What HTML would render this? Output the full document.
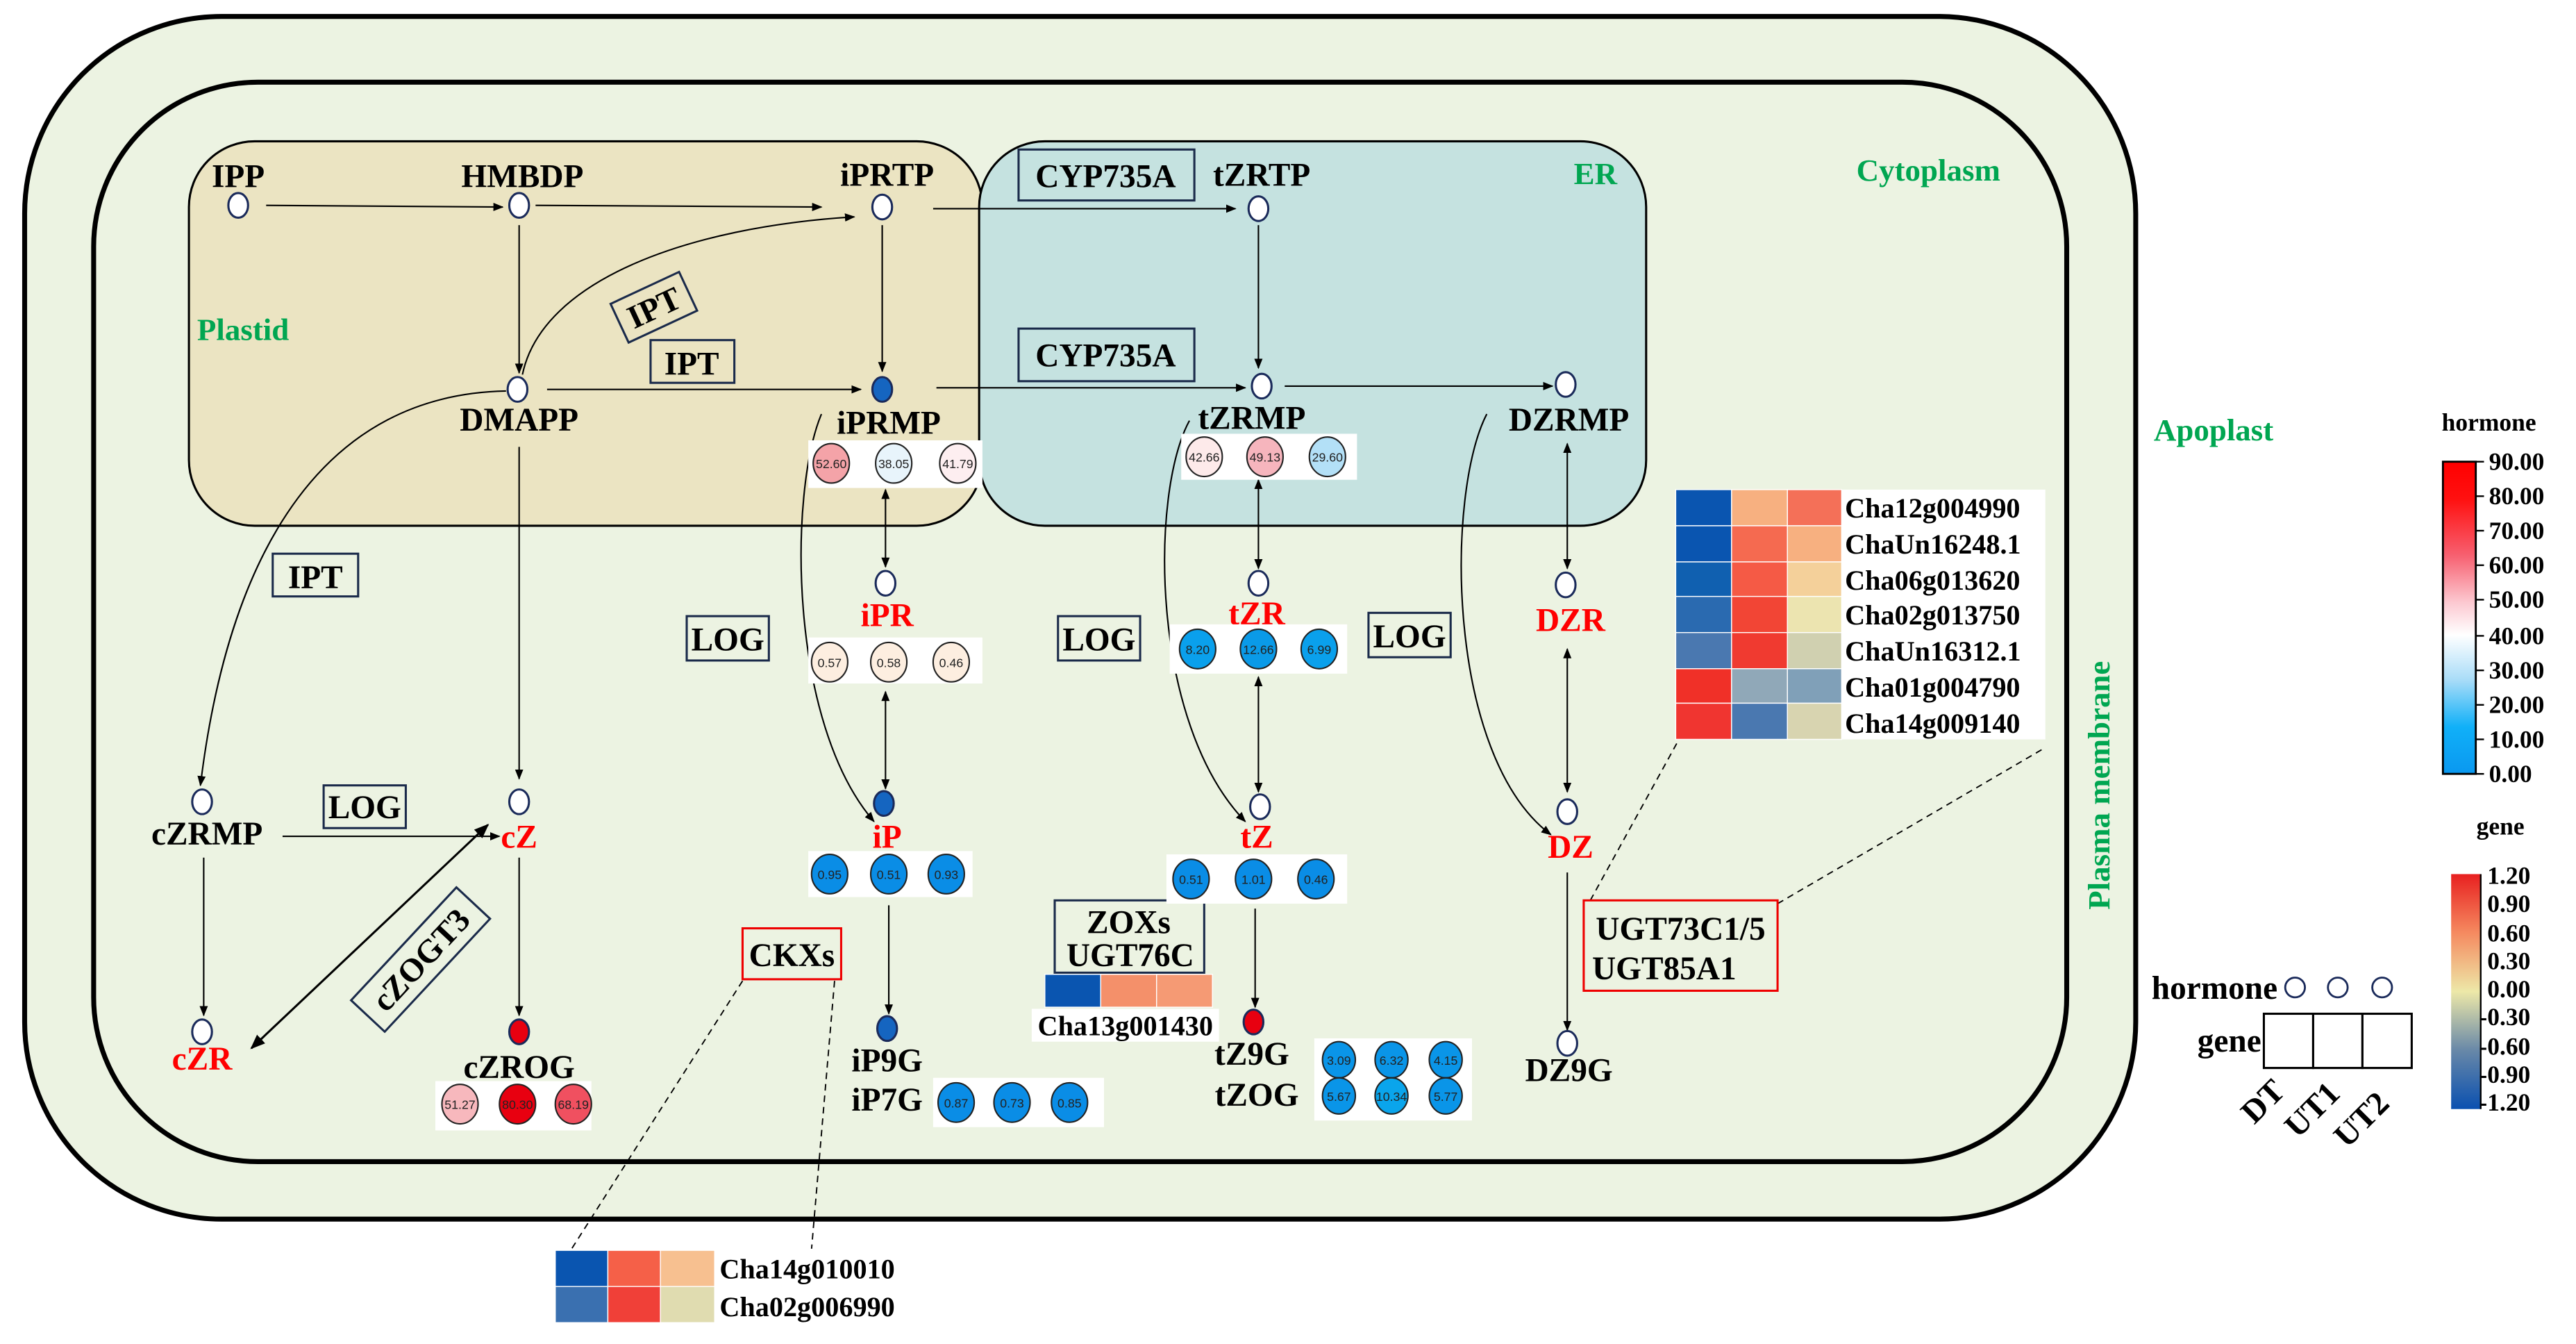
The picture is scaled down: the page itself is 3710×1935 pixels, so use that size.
<!DOCTYPE html>
<html><head><meta charset="utf-8"><style>
html,body{margin:0;padding:0;background:#fff;}
svg{display:block;}
text{font-family:"Liberation Serif",serif;font-weight:bold;}
.l{font-size:20px;text-anchor:middle;fill:#000;}
.r{font-size:20px;text-anchor:middle;fill:#f00;}
.g{font-size:19px;fill:#00a651;}
.v{font-family:"Liberation Sans",sans-serif;font-weight:normal;font-size:7.5px;text-anchor:middle;fill:#222;}
.gn{font-size:17px;fill:#000;}
.lg{font-size:15px;fill:#000;}
</style></head><body>
<svg width="3710" height="1935" viewBox="0 0 1568 818" preserveAspectRatio="none" xmlns="http://www.w3.org/2000/svg">
<defs>
<marker id="a" viewBox="0 0 10 10" refX="9" refY="5" markerWidth="7" markerHeight="7" orient="auto-start-reverse"><path d="M0,1 L10,5 L0,9 z" fill="#000"/></marker>
</defs>
<rect x="0" y="0" width="1568" height="818" fill="#fff"/>
<!-- cell walls -->
<rect x="15" y="10" width="1285" height="732" rx="120" ry="120" fill="#ecf3e2" stroke="#000" stroke-width="3"/>
<rect x="57" y="50" width="1201" height="657" rx="100" ry="100" fill="#ecf3e2" stroke="#000" stroke-width="3"/>
<!-- plastid & ER -->
<rect x="115" y="86" width="483" height="234" rx="40" ry="40" fill="#ebe4c2" stroke="#000" stroke-width="1.3"/>
<rect x="596" y="86" width="406" height="234" rx="40" ry="40" fill="#c5e2e0" stroke="#000" stroke-width="1.3"/>
<text class="g" x="120" y="207">Plastid</text>
<text class="g" x="958" y="112">ER</text>
<text class="g" x="1130" y="110">Cytoplasm</text>
<text class="g" x="1311" y="268">Apoplast</text>
<text class="g" x="0" y="0" font-size="17" text-anchor="middle" transform="translate(1284,478) rotate(-90)">Plasma membrane</text>

<!-- connectors -->
<g stroke="#000" stroke-width="0.9" fill="none">
<line x1="162" y1="125" x2="306" y2="126" marker-end="url(#a)"/>
<line x1="326" y1="125" x2="500" y2="126" marker-end="url(#a)"/>
<line x1="568" y1="127" x2="752" y2="127" marker-end="url(#a)"/>
<line x1="316" y1="137" x2="316" y2="227" marker-end="url(#a)"/>
<line x1="537" y1="137" x2="537" y2="226" marker-end="url(#a)"/>
<line x1="766" y1="137" x2="766" y2="224" marker-end="url(#a)"/>
<line x1="333" y1="237" x2="524" y2="237" marker-end="url(#a)"/>
<line x1="570" y1="236" x2="758" y2="236" marker-end="url(#a)"/>
<line x1="782" y1="235" x2="945" y2="235" marker-end="url(#a)"/>
<path d="M318,228 C330,170 420,138 520,132" marker-end="url(#a)"/>
<path d="M308,238 C200,240 140,330 122,478" marker-end="url(#a)"/>
<line x1="316" y1="272" x2="316" y2="474" marker-end="url(#a)"/>
<path d="M500,252 C480,300 480,440 532,500" marker-end="url(#a)"/>
<path d="M724,256 C700,300 700,440 758,500" marker-end="url(#a)"/>
<path d="M905,252 C880,300 880,460 944,508" marker-end="url(#a)"/>
<line x1="539" y1="298" x2="539" y2="345" marker-start="url(#a)" marker-end="url(#a)"/>
<line x1="539" y1="421" x2="539" y2="480" marker-start="url(#a)" marker-end="url(#a)"/>
<line x1="766" y1="292" x2="766" y2="346" marker-start="url(#a)" marker-end="url(#a)"/>
<line x1="766" y1="412" x2="766" y2="482" marker-start="url(#a)" marker-end="url(#a)"/>
<line x1="954" y1="270" x2="954" y2="346" marker-start="url(#a)" marker-end="url(#a)"/>
<line x1="954" y1="395" x2="954" y2="482" marker-start="url(#a)" marker-end="url(#a)"/>
<line x1="541" y1="551" x2="541" y2="617" marker-end="url(#a)"/>
<line x1="764" y1="553" x2="764" y2="613" marker-end="url(#a)"/>
<line x1="954" y1="531" x2="954" y2="627" marker-end="url(#a)"/>
<line x1="172" y1="509" x2="304" y2="509" marker-end="url(#a)"/>
<line x1="124" y1="522" x2="124" y2="618" marker-end="url(#a)"/>
<line x1="316" y1="522" x2="316" y2="618" marker-end="url(#a)"/>
<line x1="153" y1="638" x2="297" y2="502" stroke-width="1.3" marker-start="url(#a)" marker-end="url(#a)"/>
</g>
<g stroke="#000" stroke-width="0.8" fill="none" stroke-dasharray="4,3">
<line x1="452" y1="597" x2="348" y2="760"/>
<line x1="508" y1="597" x2="494" y2="760"/>
<line x1="968" y1="548" x2="1022" y2="450"/>
<line x1="1082" y1="550" x2="1245" y2="455"/>
</g>

<!-- enzyme boxes -->
<g fill="none" stroke="#1a2a4a" stroke-width="1.3">
<rect x="620" y="91" width="107" height="31"/>
<rect x="620" y="200" width="107" height="32"/>
<rect x="396" y="207" width="51" height="26"/>
<rect x="166" y="337" width="52" height="26"/>
<rect x="418" y="375" width="50" height="27"/>
<rect x="644" y="375" width="50" height="27"/>
<rect x="833" y="373" width="50" height="27"/>
<rect x="197" y="478" width="50" height="26"/>
<rect x="642" y="548" width="91" height="44"/>
<rect x="-23" y="-13" width="46" height="26" transform="translate(398,187) rotate(-25)"/>
<rect x="-47" y="-14" width="94" height="28" transform="translate(256,584) rotate(-47)"/>
</g>
<g fill="none" stroke="#e00" stroke-width="1.3">
<rect x="452" y="565" width="60" height="31"/>
<rect x="964" y="548" width="118" height="55"/>
</g>
<text class="l" x="673" y="114">CYP735A</text>
<text class="l" x="673" y="223">CYP735A</text>
<text class="l" x="421" y="228">IPT</text>
<text class="l" x="192" y="358">IPT</text>
<text class="l" x="0" y="7" transform="translate(398,187) rotate(-25)">IPT</text>
<text class="l" x="443" y="396">LOG</text>
<text class="l" x="669" y="396">LOG</text>
<text class="l" x="858" y="394">LOG</text>
<text class="l" x="222" y="498">LOG</text>
<text class="l" x="0" y="7" font-size="19" transform="translate(256,584) rotate(-47)">cZOGT3</text>
<text class="l" x="482" y="588">CKXs</text>
<text class="l" x="687" y="568">ZOXs</text>
<text class="l" x="688" y="588">UGT76C</text>
<text class="l" x="1023" y="572">UGT73C1/5</text>
<text class="l" x="1013" y="596">UGT85A1</text>

<!-- metabolite labels -->
<text class="l" x="145" y="114">IPP</text>
<text class="l" x="318" y="114">HMBDP</text>
<text class="l" x="540" y="113">iPRTP</text>
<text class="l" x="768" y="113">tZRTP</text>
<text class="l" x="316" y="262">DMAPP</text>
<text class="l" x="541" y="264">iPRMP</text>
<text class="l" x="762" y="261">tZRMP</text>
<text class="l" x="955" y="262">DZRMP</text>
<text class="r" x="540" y="381">iPR</text>
<text class="r" x="765" y="380">tZR</text>
<text class="r" x="956" y="384">DZR</text>
<text class="r" x="540" y="516">iP</text>
<text class="r" x="765" y="516">tZ</text>
<text class="r" x="956" y="522">DZ</text>
<text class="l" x="126" y="514">cZRMP</text>
<text class="r" x="316" y="516">cZ</text>
<text class="r" x="123" y="651">cZR</text>
<text class="l" x="316" y="656">cZROG</text>
<text class="l" x="540" y="652">iP9G</text>
<text class="l" x="540" y="676">iP7G</text>
<text class="l" x="762" y="648">tZ9G</text>
<text class="l" x="765" y="673">tZOG</text>
<text class="l" x="955" y="658">DZ9G</text>

<!-- metabolite nodes -->
<g stroke="#1a2a5a" stroke-width="1.3" fill="#fff">
<ellipse cx="145" cy="125" rx="6" ry="7.5"/>
<ellipse cx="316" cy="125" rx="6" ry="7.5"/>
<ellipse cx="537" cy="126" rx="6" ry="7.5"/>
<ellipse cx="766" cy="127" rx="6" ry="7.5"/>
<ellipse cx="315" cy="237" rx="6" ry="7.5"/>
<ellipse cx="537" cy="237" rx="6" ry="7.5" fill="#1565c0"/>
<ellipse cx="768" cy="235" rx="6" ry="7.5"/>
<ellipse cx="953" cy="234" rx="6" ry="7.5"/>
<ellipse cx="539" cy="355" rx="6" ry="7.5"/>
<ellipse cx="766" cy="355" rx="6" ry="7.5"/>
<ellipse cx="953" cy="356" rx="6" ry="7.5"/>
<ellipse cx="538" cy="489" rx="6" ry="7.5" fill="#1565c0"/>
<ellipse cx="767" cy="491" rx="6" ry="7.5"/>
<ellipse cx="954" cy="494" rx="6" ry="7.5"/>
<ellipse cx="123" cy="488" rx="6" ry="7.5"/>
<ellipse cx="316" cy="488" rx="6" ry="7.5"/>
<ellipse cx="123" cy="628" rx="6" ry="7.5"/>
<ellipse cx="316" cy="628" rx="6" ry="7.5" fill="#e80010"/>
<ellipse cx="540" cy="626" rx="6" ry="7.5" fill="#1565c0"/>
<ellipse cx="763" cy="622" rx="6" ry="7.5" fill="#e80010"/>
<ellipse cx="954" cy="635" rx="6" ry="7.5"/>
</g>

<!-- value boxes -->
<g fill="#fff">
<rect x="492" y="268" width="106" height="29"/>
<rect x="719" y="264" width="107" height="28"/>
<rect x="492" y="388" width="106" height="28"/>
<rect x="712" y="380" width="108" height="30"/>
<rect x="492" y="518" width="100" height="28"/>
<rect x="710" y="520" width="110" height="30"/>
<rect x="568" y="656" width="104" height="30"/>
<rect x="800" y="632" width="96" height="50"/>
<rect x="265" y="658" width="95" height="30"/>
<rect x="628" y="614" width="114" height="20"/>
<rect x="1020" y="298" width="225" height="152"/>
<rect x="338" y="761" width="218" height="44"/>
</g>
<g stroke="#222" stroke-width="0.9">
<ellipse cx="506" cy="282" rx="11" ry="12" fill="#f4a3a8"/>
<ellipse cx="544" cy="282" rx="11" ry="12" fill="#e8f4fb"/>
<ellipse cx="583" cy="282" rx="11" ry="12" fill="#fdeef0"/>
<ellipse cx="733" cy="278" rx="11" ry="12" fill="#fdeaea"/>
<ellipse cx="770" cy="278" rx="11" ry="12" fill="#f6b5bd"/>
<ellipse cx="808" cy="278" rx="11" ry="12" fill="#b3e0f7"/>
<ellipse cx="505" cy="403" rx="11" ry="12" fill="#fdeee0"/>
<ellipse cx="541" cy="403" rx="11" ry="12" fill="#fdeee0"/>
<ellipse cx="579" cy="403" rx="11" ry="12" fill="#fdeee0"/>
<ellipse cx="729" cy="395" rx="11" ry="12" fill="#0aa0ec"/>
<ellipse cx="766" cy="395" rx="11" ry="12" fill="#0a9ae8"/>
<ellipse cx="803" cy="395" rx="11" ry="12" fill="#0aa0ec"/>
<ellipse cx="505" cy="532" rx="11" ry="12" fill="#0a8de6"/>
<ellipse cx="541" cy="532" rx="11" ry="12" fill="#0a8de6"/>
<ellipse cx="576" cy="532" rx="11" ry="12" fill="#0a8de6"/>
<ellipse cx="725" cy="535" rx="11" ry="12" fill="#0a8de6"/>
<ellipse cx="763" cy="535" rx="11" ry="12" fill="#0a8de6"/>
<ellipse cx="801" cy="535" rx="11" ry="12" fill="#0a8de6"/>
<ellipse cx="582" cy="671" rx="11" ry="12" fill="#0a8de6"/>
<ellipse cx="616" cy="671" rx="11" ry="12" fill="#0a8de6"/>
<ellipse cx="651" cy="671" rx="11" ry="12" fill="#0a8de6"/>
<ellipse cx="815" cy="645" rx="10" ry="11" fill="#0a95e8"/>
<ellipse cx="847" cy="645" rx="10" ry="11" fill="#0a95e8"/>
<ellipse cx="880" cy="645" rx="10" ry="11" fill="#0a95e8"/>
<ellipse cx="815" cy="667" rx="10" ry="11" fill="#0a95e8"/>
<ellipse cx="847" cy="667" rx="10" ry="11" fill="#0aa5ec"/>
<ellipse cx="880" cy="667" rx="10" ry="11" fill="#0a95e8"/>
<ellipse cx="280" cy="672" rx="11" ry="12" fill="#f7b8bd"/>
<ellipse cx="315" cy="672" rx="11" ry="12" fill="#e80010"/>
<ellipse cx="349" cy="672" rx="11" ry="12" fill="#f05060"/>
</g>
<g class="v">
<text class="v" x="506" y="285">52.60</text><text class="v" x="544" y="285">38.05</text><text class="v" x="583" y="285">41.79</text>
<text class="v" x="733" y="281">42.66</text><text class="v" x="770" y="281">49.13</text><text class="v" x="808" y="281">29.60</text>
<text class="v" x="505" y="406">0.57</text><text class="v" x="541" y="406">0.58</text><text class="v" x="579" y="406">0.46</text>
<text class="v" x="729" y="398">8.20</text><text class="v" x="766" y="398">12.66</text><text class="v" x="803" y="398">6.99</text>
<text class="v" x="505" y="535">0.95</text><text class="v" x="541" y="535">0.51</text><text class="v" x="576" y="535">0.93</text>
<text class="v" x="725" y="538">0.51</text><text class="v" x="763" y="538">1.01</text><text class="v" x="801" y="538">0.46</text>
<text class="v" x="582" y="674">0.87</text><text class="v" x="616" y="674">0.73</text><text class="v" x="651" y="674">0.85</text>
<text class="v" x="815" y="648">3.09</text><text class="v" x="847" y="648">6.32</text><text class="v" x="880" y="648">4.15</text>
<text class="v" x="815" y="670">5.67</text><text class="v" x="847" y="670">10.34</text><text class="v" x="880" y="670">5.77</text>
<text class="v" x="280" y="675">51.27</text><text class="v" x="315" y="675">80.30</text><text class="v" x="349" y="675">68.19</text>
</g>

<!-- heatmaps -->
<g stroke="#fff" stroke-width="0.6">
<rect x="636" y="593" width="34" height="20" fill="#0a55b0"/><rect x="670" y="593" width="34" height="20" fill="#f4906a"/><rect x="704" y="593" width="34" height="20" fill="#f59a74"/>
<rect x="338" y="761" width="32" height="22" fill="#0a55b0"/><rect x="370" y="761" width="32" height="22" fill="#f56048"/><rect x="402" y="761" width="33" height="22" fill="#f7c090"/>
<rect x="338" y="783" width="32" height="22" fill="#3a70b0"/><rect x="370" y="783" width="32" height="22" fill="#f04038"/><rect x="402" y="783" width="33" height="22" fill="#e0dcb0"/>
<rect x="1020" y="298" width="34" height="22" fill="#0a55b0"/><rect x="1054" y="298" width="34" height="22" fill="#f7b080"/><rect x="1088" y="298" width="33" height="22" fill="#f47058"/>
<rect x="1020" y="320" width="34" height="22" fill="#0a55b0"/><rect x="1054" y="320" width="34" height="22" fill="#f56a50"/><rect x="1088" y="320" width="33" height="22" fill="#f7b080"/>
<rect x="1020" y="342" width="34" height="21" fill="#1060b0"/><rect x="1054" y="342" width="34" height="21" fill="#f55a45"/><rect x="1088" y="342" width="33" height="21" fill="#f4d09a"/>
<rect x="1020" y="363" width="34" height="22" fill="#2a6ab0"/><rect x="1054" y="363" width="34" height="22" fill="#f24535"/><rect x="1088" y="363" width="33" height="22" fill="#ece4b0"/>
<rect x="1020" y="385" width="34" height="22" fill="#4a78b0"/><rect x="1054" y="385" width="34" height="22" fill="#f03a30"/><rect x="1088" y="385" width="33" height="22" fill="#d0d0b0"/>
<rect x="1020" y="407" width="34" height="21" fill="#f03028"/><rect x="1054" y="407" width="34" height="21" fill="#90a8b8"/><rect x="1088" y="407" width="33" height="21" fill="#80a0b8"/>
<rect x="1020" y="428" width="34" height="22" fill="#f03530"/><rect x="1054" y="428" width="34" height="22" fill="#4a78b0"/><rect x="1088" y="428" width="33" height="22" fill="#d8d4b0"/>
</g>
<text class="gn" x="685" y="630" text-anchor="middle">Cha13g001430</text>
<text class="gn" x="438" y="778">Cha14g010010</text>
<text class="gn" x="438" y="801">Cha02g006990</text>
<text class="gn" x="1123" y="315">Cha12g004990</text>
<text class="gn" x="1123" y="337">ChaUn16248.1</text>
<text class="gn" x="1123" y="359">Cha06g013620</text>
<text class="gn" x="1123" y="380">Cha02g013750</text>
<text class="gn" x="1123" y="402">ChaUn16312.1</text>
<text class="gn" x="1123" y="424">Cha01g004790</text>
<text class="gn" x="1123" y="446">Cha14g009140</text>

<!-- legends -->
<defs>
<linearGradient id="hg" x1="0" y1="0" x2="0" y2="1">
<stop offset="0" stop-color="#ff0000"/><stop offset="0.12" stop-color="#ff1010"/><stop offset="0.3" stop-color="#f76070"/><stop offset="0.45" stop-color="#fcc8d0"/><stop offset="0.555" stop-color="#ffffff"/><stop offset="0.7" stop-color="#a8dcf8"/><stop offset="0.85" stop-color="#10b0f8"/><stop offset="1" stop-color="#0a98f0"/>
</linearGradient>
<linearGradient id="gg" x1="0" y1="0" x2="0" y2="1">
<stop offset="0" stop-color="#e82020"/><stop offset="0.25" stop-color="#f58a60"/><stop offset="0.5" stop-color="#ede8a8"/><stop offset="0.75" stop-color="#6888a8"/><stop offset="1" stop-color="#0a50b0"/>
</linearGradient>
</defs>
<text class="lg" x="1515" y="262" font-size="17" text-anchor="middle">hormone</text>
<rect x="1487" y="281" width="20" height="190" fill="url(#hg)" stroke="#000" stroke-width="1.2"/>
<g stroke="#000" stroke-width="1"><line x1="1507" y1="281" x2="1512" y2="281"/><line x1="1507" y1="302" x2="1512" y2="302"/><line x1="1507" y1="323" x2="1512" y2="323"/><line x1="1507" y1="344" x2="1512" y2="344"/><line x1="1507" y1="365" x2="1512" y2="365"/><line x1="1507" y1="387" x2="1512" y2="387"/><line x1="1507" y1="408" x2="1512" y2="408"/><line x1="1507" y1="429" x2="1512" y2="429"/><line x1="1507" y1="450" x2="1512" y2="450"/><line x1="1507" y1="471" x2="1512" y2="471"/></g>
<g class="lg">
<text x="1515" y="286">90.00</text><text x="1515" y="307">80.00</text><text x="1515" y="328">70.00</text><text x="1515" y="349">60.00</text><text x="1515" y="370">50.00</text><text x="1515" y="392">40.00</text><text x="1515" y="413">30.00</text><text x="1515" y="434">20.00</text><text x="1515" y="455">10.00</text><text x="1515" y="476">0.00</text>
</g>
<text class="lg" x="1522" y="508" font-size="17" text-anchor="middle">gene</text>
<rect x="1492" y="532" width="18" height="143" fill="url(#gg)"/>
<line x1="1510" y1="532" x2="1510" y2="675" stroke="#000" stroke-width="1"/>
<g class="lg" font-size="14">
<text x="1514" y="538">1.20</text><text x="1514" y="555">0.90</text><text x="1514" y="573">0.60</text><text x="1514" y="590">0.30</text><text x="1514" y="607">0.00</text><text x="1509" y="624">-0.30</text><text x="1509" y="642">-0.60</text><text x="1509" y="659">-0.90</text><text x="1509" y="676">-1.20</text>
</g>
<text class="l" x="1348" y="608" font-size="18">hormone</text>
<g stroke="#1a2a5a" stroke-width="1.2" fill="#fff"><ellipse cx="1397" cy="601" rx="6" ry="6"/><ellipse cx="1423" cy="601" rx="6" ry="6"/><ellipse cx="1450" cy="601" rx="6" ry="6"/></g>
<text class="l" x="1357" y="640" font-size="18">gene</text>
<g fill="#fff" stroke="#000" stroke-width="1.3"><rect x="1378" y="617" width="30" height="33"/><rect x="1408" y="617" width="30" height="33"/><rect x="1438" y="617" width="30" height="33"/></g>
<text class="l" font-size="17" transform="translate(1382,675) rotate(-45)" x="0" y="0">DT</text>
<text class="l" font-size="17" transform="translate(1412,680) rotate(-45)" x="0" y="0">UT1</text>
<text class="l" font-size="17" transform="translate(1442,686) rotate(-45)" x="0" y="0">UT2</text>
</svg>
</body></html>
